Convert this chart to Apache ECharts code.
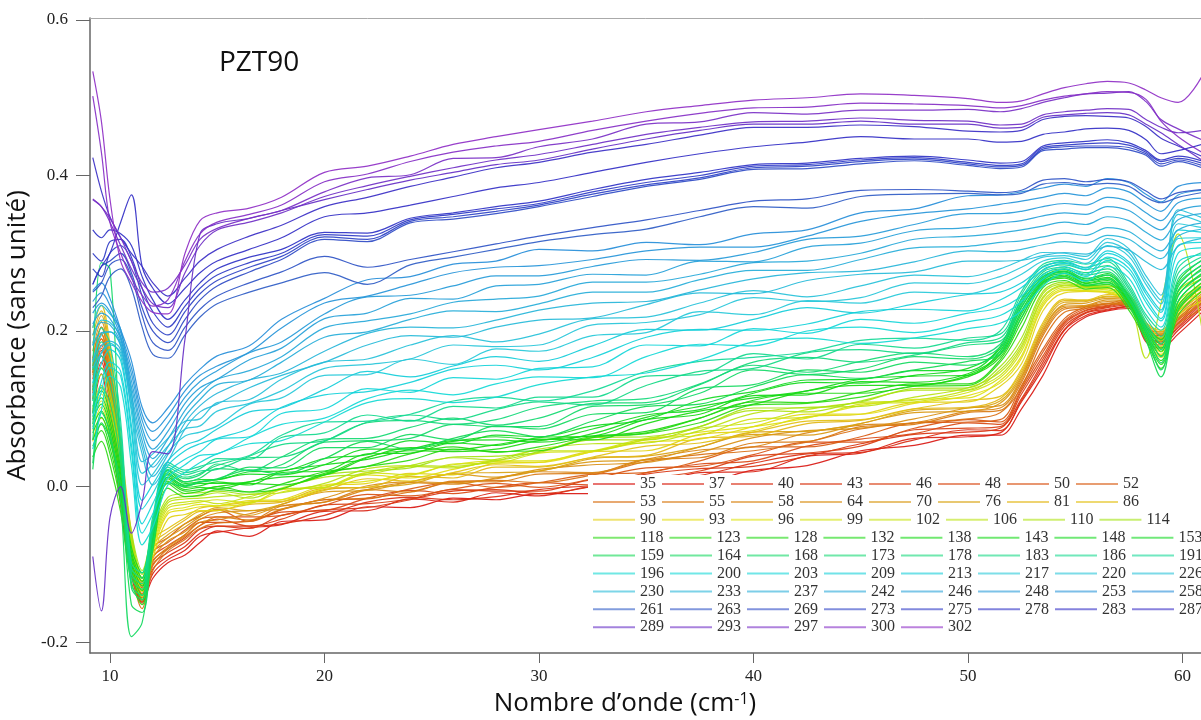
<!DOCTYPE html>
<html><head><meta charset="utf-8">
<script src="https://cdn.jsdelivr.net/npm/echarts@6/dist/echarts.min.js"></script>
<style>html,body{margin:0;padding:0;background:#fff}#c{width:1201px;height:720px}</style>
</head><body><div id="c"></div>
<script>
// Temperatures (legend entries)
const temps = [35,37,40,43,46,48,50,52,53,55,58,64,70,76,81,86,90,93,96,99,102,106,110,114,118,123,128,132,138,143,148,153,159,164,168,173,178,183,186,191,196,200,203,209,213,217,220,226,230,233,237,242,246,248,253,258,261,263,269,273,275,278,283,287,289,293,297,300,302];
// Wavenumber sample positions (cm-1)
const xs = [9.2,9.6,10.0,10.5,11.0,11.5,12.0,12.7,13.5,14.2,15,16.5,18,20,22,24,26,28,30,32.5,35,37.5,40,42.5,45,47.5,50,51.5,52.5,53.5,54.5,55.5,56.5,57.5,58.3,59,59.8,60.9];
// Absorbance x1000
const s35 = [95,145,85,-25,-115,-148,-118,-98,-88,-72,-57,-64,-45,-43,-26,-27,-15,-17,-9,-9,7,6,21,27,46,53,66,66,100,143,196,218,226,229,186,178,196,224];
const s37 = [112,160,102,-8,-100,-150,-112,-94,-82,-64,-59,-53,-49,-32,-31,-16,-20,-8,-12,0,1,18,19,39,43,62,64,69,109,152,201,220,227,231,189,182,201,229];
const s40 = [120,168,110,0,-96,-143,-106,-90,-77,-60,-51,-51,-48,-37,-20,-14,-17,-13,-4,1,3,14,30,42,44,60,73,72,111,156,202,223,228,232,191,186,204,232];
const s43 = [124,175,114,4,-90,-138,-100,-85,-72,-55,-51,-54,-37,-30,-27,-17,-6,-4,-9,0,16,23,26,39,55,67,70,75,113,160,206,224,230,234,193,187,206,235];
const s46 = [138,182,128,18,-84,-130,-95,-80,-66,-50,-42,-51,-42,-24,-22,-16,-4,-6,-6,9,11,20,39,43,52,73,75,77,119,164,209,226,231,236,196,191,209,237];
const s48 = [146,190,136,26,-78,-126,-90,-76,-62,-46,-46,-44,-33,-31,-15,-5,-9,-1,5,2,18,29,33,52,61,68,82,80,123,168,211,227,232,238,198,194,211,240];
const s50 = [155,196,145,35,-72,-122,-84,-72,-56,-42,-39,-39,-37,-24,-10,-12,-3,4,-1,10,24,26,41,57,57,75,86,83,126,173,213,229,233,239,200,196,214,243];
const s52 = [165,205,155,45,-66,-118,-78,-66,-48,-38,-30,-45,-30,-17,-16,-3,5,-1,5,16,18,33,51,51,64,82,83,86,130,177,216,231,235,241,203,199,216,246];
const s53 = [128,178,118,-3,-104,-157,-108,-83,-68,-54,-47,-45,-29,-17,-15,-7,6,8,5,15,32,41,46,57,74,82,87,95,128,188,224,229,235,233,196,184,209,228];
const s55 = [143,190,132,12,-92,-148,-102,-80,-64,-50,-39,-43,-25,-20,-4,-7,7,6,16,17,35,37,56,58,77,80,95,98,134,194,228,231,236,235,198,188,214,235];
const s58 = [147,197,135,15,-86,-146,-97,-78,-62,-46,-43,-35,-25,-20,-4,5,3,11,19,18,35,47,51,69,79,82,97,101,137,197,230,232,238,236,200,190,217,240];
const s64 = [163,205,149,29,-80,-138,-92,-70,-58,-42,-34,-31,-29,-15,1,6,5,10,22,28,31,44,63,72,75,87,101,104,140,200,232,233,240,238,202,192,220,244];
const s70 = [174,212,158,38,-74,-133,-85,-66,-52,-39,-29,-37,-23,-7,-5,6,16,12,20,32,34,51,67,66,81,95,97,107,142,202,234,236,242,240,205,195,222,248];
const s76 = [184,220,166,46,-68,-128,-80,-62,-48,-36,-27,-31,-23,-4,-1,3,17,18,20,36,39,51,70,71,81,98,101,110,145,205,237,238,244,242,207,197,225,252];
const s81 = [194,226,174,54,-63,-124,-74,-58,-43,-32,-31,-23,-20,-2,-1,13,11,25,25,37,40,62,65,81,85,100,102,113,148,208,239,239,245,243,209,199,228,257];
const s86 = [204,233,183,62,-58,-118,-68,-54,-40,-28,-25,-20,-19,-5,10,7,18,28,26,38,52,56,70,84,86,100,111,116,151,211,241,240,247,245,211,201,231,262];
const s90 = [58,88,62,-12,-103,-142,-92,-42,-36,-31,-31,-20,-17,1,4,17,15,30,31,45,46,67,72,90,93,108,109,129,158,226,249,251,249,236,191,166,219,238];
const s93 = [72,102,71,0,-92,-135,-85,-35,-30,-26,-25,-18,-17,-2,15,11,22,32,31,45,57,61,77,93,93,107,117,133,165,232,252,252,250,238,193,170,225,245];
const s96 = [80,110,80,6,-87,-132,-80,-32,-27,-23,-25,-22,-7,2,7,15,28,33,33,45,60,70,77,88,104,112,114,136,168,235,254,252,251,240,195,173,230,250];
const s99 = [89,119,88,14,-80,-126,-76,-28,-23,-20,-17,-21,-4,-1,18,15,29,30,43,46,62,66,87,89,106,109,121,140,174,238,256,254,253,242,197,177,234,254];
const s102 = [97,127,96,21,-75,-121,-71,-25,-20,-18,-22,-13,-3,-1,18,26,24,35,46,46,61,75,82,99,108,111,124,143,178,242,258,256,255,243,200,180,238,258];
const s106 = [100,130,104,24,-70,-118,-68,-21,-16,-15,-13,-10,-8,4,23,27,26,33,48,55,56,72,94,102,103,115,127,147,181,244,259,256,255,240,165,235,325,205];
const s110 = [114,144,113,35,-64,-113,-63,-18,-13,-12,-8,-15,-2,12,16,27,37,34,45,60,60,77,98,96,110,124,124,150,185,248,261,257,257,246,203,187,247,267];
const s114 = [123,153,122,42,-58,-108,-58,-14,-9,-8,-6,-10,-3,15,20,24,38,39,44,63,64,77,101,101,109,126,127,154,191,251,263,258,258,248,205,191,251,271];
const s118 = [38,58,28,-33,-123,-152,-82,-2,-13,-11,-4,-7,-3,17,26,34,48,45,46,63,68,82,105,107,115,129,130,160,204,256,265,254,256,227,188,152,220,251];
const s123 = [52,72,42,-20,-111,-145,-75,4,-9,-6,0,-7,3,19,26,42,51,44,51,64,69,88,109,108,121,132,132,163,212,260,268,258,260,231,192,157,226,257];
const s128 = [60,80,50,-13,-106,-140,-70,7,-6,-4,0,4,2,15,38,46,45,48,59,65,71,88,111,120,120,129,141,166,217,262,270,259,263,234,195,162,232,262];
const s132 = [69,89,59,-6,-100,-134,-66,10,-4,-1,-3,6,12,15,37,50,47,54,61,60,81,97,106,123,130,130,143,169,222,263,272,261,265,236,197,168,238,268];
const s138 = [77,97,67,2,-95,-128,-62,12,-1,1,6,2,18,20,42,43,56,53,63,65,86,93,117,118,135,134,145,171,226,265,274,262,267,238,200,174,245,274];
const s143 = [86,106,76,9,-89,-122,-58,15,1,4,4,6,20,28,35,48,59,60,57,68,89,103,114,123,138,142,143,174,231,267,276,264,269,240,202,178,251,280];
const s148 = [94,114,84,16,-84,-117,-53,18,4,6,9,16,15,28,48,48,58,64,60,74,92,99,120,134,133,143,152,177,236,268,277,265,272,243,205,183,257,285];
const s153 = [103,123,93,23,-78,-111,-49,21,6,9,9,19,20,36,41,59,55,66,64,78,86,111,122,137,138,149,149,180,241,270,279,267,274,245,207,189,263,291];
const s159 = [22,82,62,2,-152,-162,-72,12,2,6,10,21,16,36,58,48,62,72,64,84,103,106,128,144,139,150,161,170,218,262,270,259,262,234,188,141,228,258];
const s164 = [30,95,70,-20,-193,-175,-80,5,0,6,9,25,24,50,50,67,60,78,74,93,95,126,131,150,147,160,156,174,225,266,274,265,267,240,195,150,238,267];
const s168 = [150,288,280,40,-130,-146,-61,16,6,11,23,21,28,57,59,62,80,77,77,103,105,120,150,144,151,167,164,179,230,270,276,268,272,243,200,159,245,272];
const s173 = [60,128,108,31,-127,-140,-56,20,10,15,29,20,38,61,62,76,88,79,88,107,108,131,156,147,161,172,167,183,234,273,280,272,276,247,204,167,252,278];
const s178 = [80,152,132,49,-118,-132,-52,22,12,17,27,37,38,58,82,85,80,86,102,110,113,132,160,166,160,169,182,187,238,276,282,275,280,250,208,176,260,284];
const s183 = [94,168,148,60,-112,-125,-48,25,15,20,22,39,54,59,83,92,86,99,109,105,130,148,152,172,176,171,185,191,242,279,285,279,284,254,212,184,267,290];
const s186 = [110,186,166,72,-105,-118,-43,28,18,23,36,35,63,69,92,84,103,101,115,115,142,144,171,164,183,178,191,196,247,283,288,282,289,257,217,193,274,295];
const s191 = [124,204,184,84,-98,-111,-38,31,21,26,32,40,66,83,84,93,110,115,110,123,148,161,166,173,188,191,188,200,251,286,291,286,293,261,221,201,281,301];
const s196 = [48,98,142,128,28,-75,-52,2,18,31,42,55,59,83,108,113,108,115,131,141,146,163,186,191,184,191,203,210,226,258,274,264,283,268,228,205,288,298];
const s200 = [74,122,153,142,45,-60,-35,11,28,40,42,63,80,88,113,124,118,132,141,140,167,183,181,200,205,198,212,220,238,267,280,270,291,276,237,213,300,307];
const s203 = [90,135,160,148,54,-48,-22,18,35,45,61,64,94,100,126,121,140,138,152,154,182,181,203,197,215,210,223,230,245,272,283,273,295,281,242,216,310,314];
const s209 = [117,158,176,162,71,-29,-9,27,46,55,62,75,102,118,122,134,151,156,150,166,192,202,201,209,225,228,226,240,256,278,287,279,300,286,248,224,319,320];
const s213 = [133,172,184,168,79,-18,3,33,53,60,74,96,101,125,148,141,155,167,161,181,202,201,215,230,223,235,247,250,262,282,290,281,303,289,252,227,330,327];
const s217 = [160,195,199,182,96,2,16,44,65,70,78,106,114,143,144,164,157,177,174,194,198,225,221,239,236,250,248,260,273,290,294,287,310,296,260,235,338,333];
const s220 = [182,214,211,192,109,17,29,52,74,78,97,107,123,152,157,164,182,180,182,208,211,221,243,238,243,262,261,270,282,295,297,292,314,301,265,240,350,340];
const s226 = [204,233,222,202,122,32,42,62,84,87,108,112,138,160,164,182,194,186,196,216,218,236,252,244,258,272,270,280,291,301,300,296,319,306,271,246,356,346];
const s230 = [152,172,182,172,102,42,2,32,74,96,106,127,143,160,182,194,192,205,214,217,234,249,248,265,273,276,290,290,291,297,301,299,309,304,289,279,309,319];
const s233 = [162,181,187,176,111,51,13,41,82,104,120,137,146,174,197,205,204,214,227,236,238,253,267,275,277,289,303,302,305,311,315,313,323,318,303,293,322,331];
const s237 = [181,198,199,181,119,59,25,51,90,112,131,137,160,192,199,215,226,225,235,250,250,266,278,278,292,307,309,314,316,321,326,323,333,328,313,303,330,339];
const s242 = [195,211,208,185,128,68,36,61,98,120,138,149,167,204,213,222,237,241,245,263,263,273,288,290,300,318,322,326,330,335,340,337,347,342,327,317,343,351];
const s246 = [209,223,216,189,136,76,48,71,107,127,138,163,178,216,223,242,241,258,260,273,272,290,289,308,313,329,333,339,342,348,352,350,360,355,340,330,354,361];
const s248 = [223,236,225,193,145,85,59,81,115,135,149,172,186,222,244,246,258,271,271,283,292,291,301,318,322,337,351,351,354,360,364,362,372,367,352,342,365,371];
const s253 = [238,249,233,198,153,93,71,91,123,143,155,173,204,236,245,260,275,282,284,292,303,308,308,322,341,351,357,363,367,372,377,374,384,379,364,354,375,381];
const s258 = [252,262,242,202,162,102,82,101,131,151,168,181,215,242,266,270,286,290,305,303,314,311,325,330,352,357,374,375,379,384,389,386,396,391,376,366,386,391];
const s261 = [230,245,270,280,255,205,170,165,195,218,235,250,262,275,260,285,295,305,315,324,331,347,360,358,373,376,377,375,377,389,391,388,390,386,372,365,372,378];
const s263 = [250,262,285,292,270,220,185,175,205,228,245,262,276,296,282,292,302,312,322,333,343,355,367,370,381,382,380,378,381,394,396,392,395,392,380,370,378,382];
const s269 = [260,283,290,300,275,230,200,185,215,240,258,276,292,318,315,339,344,351,360,373,386,395,408,409,415,419,413,409,411,432,434,436,436,433,426,412,418,410];
const s273 = [280,270,300,310,290,245,210,195,225,248,265,282,296,321,318,341,347,354,362,376,388,397,410,412,418,421,415,411,413,434,437,438,438,436,428,415,420,413];
const s275 = [300,290,315,318,295,255,225,205,232,255,272,288,300,324,322,343,350,357,364,379,391,400,412,414,420,423,417,413,415,436,439,441,442,439,430,418,422,416];
const s278 = [330,320,330,325,310,270,240,215,240,262,280,295,305,327,326,345,352,360,367,382,395,404,414,416,422,425,420,416,418,438,442,444,446,442,432,420,425,419];
const s283 = [260,283,300,340,375,283,255,235,255,275,290,305,320,347,352,362,373,384,391,404,417,428,437,443,450,447,447,443,444,453,456,460,461,458,446,428,432,440];
const s287 = [423,380,347,320,300,283,262,245,268,290,305,322,336,360,372,386,398,410,417,430,440,452,462,462,465,463,457,456,458,472,476,477,476,474,463,448,438,425];
const s289 = [-90,-160,-40,0,-60,-20,45,42,190,325,338,345,355,369,382,394,404,414,420,434,447,458,466,466,470,466,466,461,462,475,478,480,481,478,466,455,440,420];
const s293 = [369,360,340,310,280,255,235,230,275,310,330,340,352,373,387,399,410,420,427,440,453,462,469,470,474,471,470,465,466,478,482,484,486,485,472,462,455,458];
const s297 = [370,360,345,320,290,262,250,255,285,318,332,345,355,379,397,401,422,423,437,447,466,469,481,479,484,484,485,482,486,494,500,505,506,508,495,472,460,446];
const s300 = [502,430,340,300,268,246,232,240,290,325,340,350,362,392,402,418,430,438,444,458,470,480,487,488,493,492,490,487,490,497,502,505,508,507,498,470,450,430];
const s302 = [534,470,370,290,262,238,224,222,300,342,352,358,372,404,412,425,440,450,459,470,482,490,497,500,505,503,499,494,496,505,513,518,521,519,510,500,494,527];

const seriesValues = [s35,s37,s40,s43,s46,s48,s50,s52,s53,s55,s58,s64,s70,s76,s81,s86,s90,s93,s96,s99,s102,s106,s110,s114,s118,s123,s128,s132,s138,s143,s148,s153,s159,s164,s168,s173,s178,s183,s186,s191,s196,s200,s203,s209,s213,s217,s220,s226,s230,s233,s237,s242,s246,s248,s253,s258,s261,s263,s269,s273,s275,s278,s283,s287,s289,s293,s297,s300,s302];
const xTicks = [10,20,30,40,50,60];
const yTicks = [-0.2,0.0,0.2,0.4,0.6];

// rainbow styling (index -> hue)
const hueStops=[[0,2],[7,22],[8,28],[15,50],[16,55],[23,78],[24,112],[31,125],[32,140],[39,160],[40,178],[47,188],[48,190],[55,205],[56,222],[63,245],[64,262],[68,278]];
function hueAt(i){for(let k=0;k<hueStops.length-1;k++){const a=hueStops[k],b=hueStops[k+1];if(i>=a[0]&&i<=b[0])return a[1]+(b[1]-a[1])*(i-a[0])/(b[0]-a[0]);}return 278;}
function hslHex(h,s,l){s/=100;l/=100;const k=n=>(n+h/30)%12;const a=s*Math.min(l,1-l);const f=n=>l-a*Math.max(-1,Math.min(k(n)-3,Math.min(9-k(n),1)));const t=v=>Math.round(v*255).toString(16).padStart(2,'0');return '#'+t(f(0))+t(f(8))+t(f(4));}
function colorFor(i){const h=hueAt(i);let s=85,l=46;if(h>=45&&h<=85)l=48;if(h>=185&&h<215){s=70;l=50;}if(h>=215){s=62;l=48;}return hslHex(h,s,l);}

const chart = echarts.init(document.getElementById('c'));
const series = temps.map((t,i)=>({
  name:String(t), type:'line', symbol:'none', showSymbol:false, smooth:0.35,
  data: xs.map((x,j)=>[x, seriesValues[i][j]/1000]),
  lineStyle:{width:1.2,color:colorFor(i),opacity:0.92}, itemStyle:{color:colorFor(i)},
  emphasis:{disabled:true}, silent:true, z:2
}));
const legends=[];
for(let r=0;r<9;r++){
  legends.push({data:temps.slice(r*8,r*8+8).map(String), left:588, top:475+17.9*r, width:900, orient:'horizontal',
    itemWidth:42, itemHeight:2, itemGap:6, icon:'rect', padding:[1,5,1,5], backgroundColor:'#fff',
    selectedMode:false, itemStyle:{opacity:0.6},
    textStyle:{fontFamily:'Liberation Serif',fontSize:16,color:'#333',lineHeight:16}});
}
const axisFont={fontFamily:'Liberation Serif',fontSize:17,color:'#222'};
chart.setOption({
  animation:false,
  backgroundColor:'#fff',
  title:[{text:'PZT90',left:214,top:44,textStyle:{fontFamily:'Open Sans',fontSize:28,fontWeight:'normal',color:'#111'}}],
  legend:legends,
  grid:{left:90,right:-5,top:18,bottom:67,containLabel:false,outerBoundsMode:'none'},
  xAxis:[{type:'value',min:9.07,max:61.1,position:'bottom',
    axisLine:{show:true,onZero:false,lineStyle:{color:'#666',width:1.5}},
    axisTick:{show:true,customValues:xTicks,length:10,lineStyle:{color:'#666'}},
    axisLabel:{customValues:xTicks,margin:15,...axisFont},
    splitLine:{show:false},
    name:'Nombre d’onde (cm{sup|-1})',nameLocation:'middle',nameGap:38,
    nameTextStyle:{fontFamily:'Open Sans',fontSize:26,color:'#111',padding:[0,46,0,0],
      rich:{sup:{fontFamily:'Open Sans',fontSize:16,color:'#111',verticalAlign:'top'}}}},
   {type:'value',min:9.07,max:61.1,position:'top',axisLine:{show:true,onZero:false,lineStyle:{color:'#aaa',width:1}},
    axisTick:{show:false},axisLabel:{show:false},splitLine:{show:false}}],
  yAxis:{type:'value',min:-0.2141,max:0.6026,
    axisLine:{show:true,onZero:false,lineStyle:{color:'#666',width:1.5}},
    axisTick:{show:true,customValues:yTicks,length:14,lineStyle:{color:'#666'}},
    axisLabel:{customValues:yTicks,margin:22,formatter:v=>v.toFixed(1),...axisFont},
    splitLine:{show:false},
    name:'Absorbance (sans unité)',nameLocation:'middle',nameRotate:90,nameGap:50,
    nameTextStyle:{fontFamily:'Open Sans',fontSize:26,color:'#111'}},
  series:series
});
</script></body></html>
